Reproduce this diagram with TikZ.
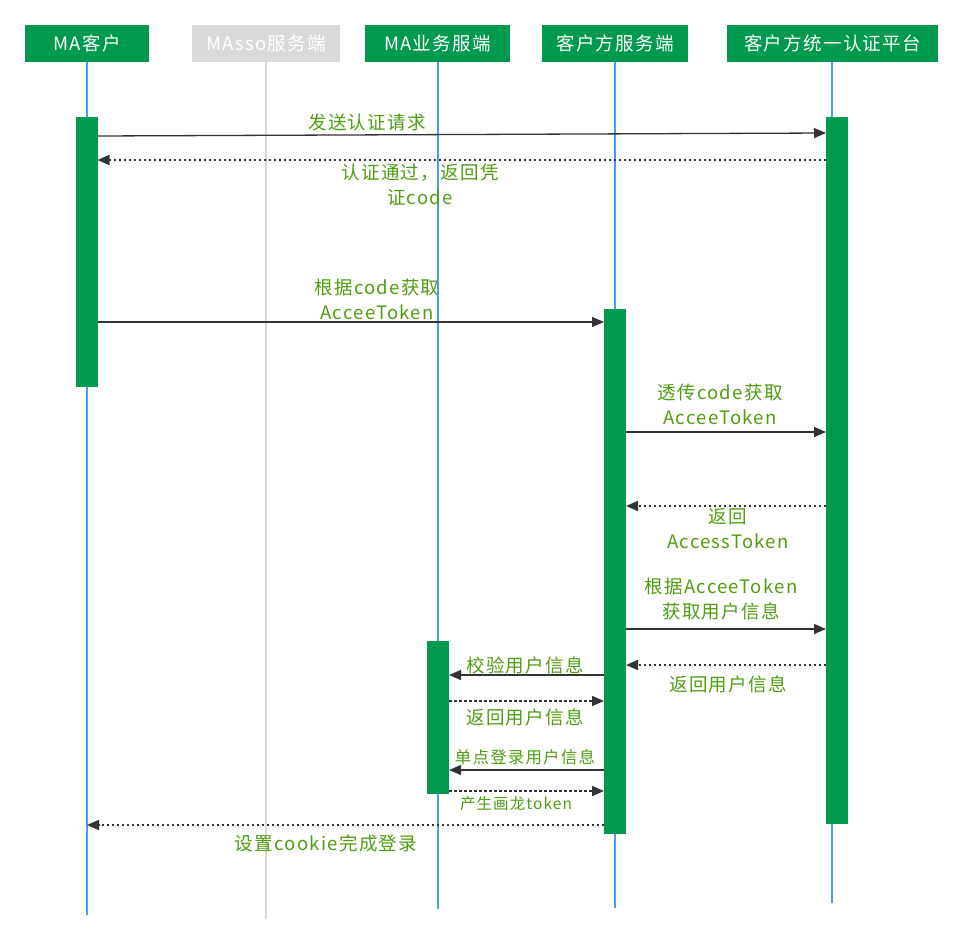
\documentclass[tikz,border=0pt]{standalone}
\usepackage{fontspec}
\setmainfont{Noto Sans CJK SC}[LetterSpace=7]
\usetikzlibrary{arrows.meta}
\definecolor{boxgreen}{HTML}{009A4E}
\definecolor{txtgreen}{HTML}{4E9E10}
\definecolor{lifeblue}{HTML}{4A9BF5}
\definecolor{lifegray}{HTML}{D9D9D9}
\definecolor{arrowdark}{HTML}{333333}
\tikzset{
  hdr/.style={fill=boxgreen, text=white, inner sep=0pt, minimum height=37pt, font=\fontsize{18.5}{22}\selectfont},
  hdrgray/.style={hdr, fill=lifegray},
  life/.style={draw=lifeblue, line width=1.5pt},
  lifeg/.style={draw=lifegray, line width=2pt},
  actbar/.style={fill=boxgreen, inner sep=0pt, minimum width=22pt},
  msg/.style={draw=arrowdark, line width=1.3pt, -{Triangle[length=12pt,width=10pt]}},
  ret/.style={draw=arrowdark, line width=1.8pt, dash pattern=on 2.5pt off 2.5pt, -{Triangle[length=12pt,width=10pt]}},
  lbl/.style={text=txtgreen, align=center, inner sep=0pt, font=\fontsize{18.5}{25}\selectfont},
  lbls/.style={lbl, font=\fontsize{16.5}{20}\selectfont},
  lblxs/.style={lbl, font=\fontsize{15.5}{18}\selectfont},
}
\begin{document}
\begin{tikzpicture}[x=1pt,y=-1pt]
\useasboundingbox (0,0) rectangle (963,945);
% headers
\node[hdr, minimum width=124pt] (hA) at (87,43.5) {MA客户};
\node[hdrgray, minimum width=148pt] (hB) at (266,43.5) {MAsso服务端};
\node[hdr, minimum width=145pt] (hC) at (437.5,43.5) {MA业务服端};
\node[hdr, minimum width=146pt] (hD) at (615,43.5) {客户方服务端};
\node[hdr, minimum width=211pt] (hE) at (832.5,43.5) {客户方统一认证平台};
% lifeline ends
\coordinate (eA) at (87,915);
\coordinate (eB) at (266,919);
\coordinate (eC) at (438,909);
\coordinate (eD) at (615,908);
\coordinate (eE) at (832,903);
\draw[life] (hA.south -| eA) -- (eA);
\draw[lifeg] (hB.south -| eB) -- (eB);
\draw[life] (hC.south -| eC) -- (eC);
\draw[life] (hD.south -| eD) -- (eD);
\draw[life] (hE.south -| eE) -- (eE);
% activation bars
\node[actbar, minimum height=270pt] (bA) at (86.5,252) {};
\node[actbar, minimum height=707pt] (bE) at (837,470.5) {};
\node[actbar, minimum height=525pt] (bD) at (615,571.5) {};
\node[actbar, minimum height=153pt] (bC) at (438,717.5) {};
% message end points
\coordinate (m1a) at (97.5,136);
\coordinate (m1b) at (826,133);
\coordinate (m2a) at (826,160);
\coordinate (m2b) at (97.5,160);
\coordinate (m3a) at (97.5,322);
\coordinate (m3b) at (604,322);
\coordinate (m4a) at (626,432);
\coordinate (m4b) at (826,432);
\coordinate (m5a) at (826,506);
\coordinate (m5b) at (626,506);
\coordinate (m6a) at (626,629);
\coordinate (m6b) at (826,629);
\coordinate (m7a) at (826,665);
\coordinate (m7b) at (626,665);
\coordinate (m8a) at (604,675);
\coordinate (m8b) at (449,675);
\coordinate (m9a) at (449,701);
\coordinate (m9b) at (604,701);
\coordinate (m10a) at (604,770);
\coordinate (m10b) at (449,770);
\coordinate (m11a) at (449,791);
\coordinate (m11b) at (604,791);
\coordinate (m12a) at (604,825);
\coordinate (m12b) at (87,825);
% messages
\draw[msg] (m1a) -- (m1b);
\draw[ret] (m2a) -- (m2b);
\draw[msg] (m3a) -- (m3b);
\draw[msg] (m4a) -- (m4b);
\draw[ret] (m5a) -- (m5b);
\draw[msg] (m6a) -- (m6b);
\draw[ret] (m7a) -- (m7b);
\draw[msg] (m8a) -- (m8b);
\draw[ret] (m9a) -- (m9b);
\draw[msg] (m10a) -- (m10b);
\draw[ret] (m11a) -- (m11b);
\draw[ret] (m12a) -- (m12b);
% labels
\node[lbl] (l1) at (367,122) {发送认证请求};
\node[lbl] (l2) at (420,184.5) {认证通过，返回凭\\证code};
\node[lbl] (l3) at (377,299.5) {根据code获取\\AcceeToken};
\node[lbl] (l4) at (720,404.5) {透传code获取\\AcceeToken};
\node[lbl] (l5) at (728,528) {返回\\AccessToken};
\node[lbl] (l6) at (721,599) {根据AcceeToken\\获取用户信息};
\node[lbl] (l7) at (728,684) {返回用户信息};
\node[lbl] (l8) at (525,665) {校验用户信息};
\node[lbl] (l9) at (525,717) {返回用户信息};
\node[lbls] (l10) at (525,757) {单点登录用户信息};
\node[lblxs] (l11) at (516,804) {产生画龙token};
\node[lbl] (l12) at (326,843) {设置cookie完成登录};
\end{tikzpicture}
\end{document}
